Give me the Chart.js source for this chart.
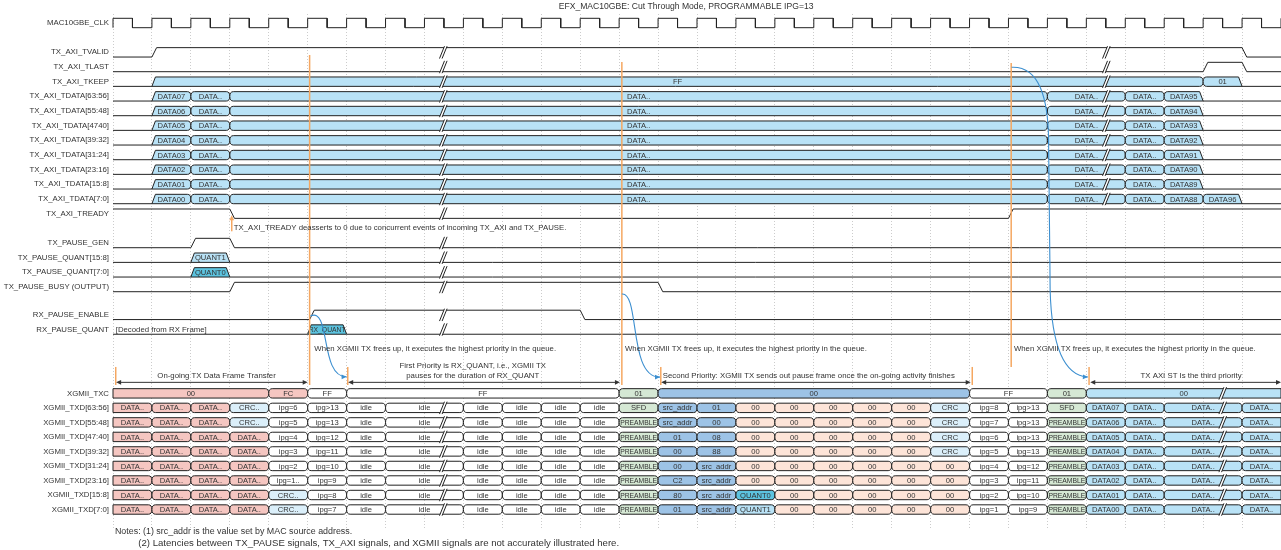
<!DOCTYPE html>
<html>
<head>
<meta charset="utf-8">
<title>EFX_MAC10GBE: Cut Through Mode</title>
<script src="https://cdn.jsdelivr.net/npm/chart.js@4/dist/chart.umd.min.js"></script>
<style>
  html, body { margin: 0; padding: 0; background: #fff; }
  #wrap { width: 1281px; height: 550px; }
</style>
</head>
<body>
<div id="wrap"><canvas id="timing"></canvas></div>
<script>
// ---------------- data ----------------
const CYCLES = 30

const signalNames = ['MAC10GBE_CLK', 'TX_AXI_TVALID', 'TX_AXI_TLAST', 'TX_AXI_TKEEP',
  'TX_AXI_TDATA[63:56]', 'TX_AXI_TDATA[55:48]', 'TX_AXI_TDATA[4740]', 'TX_AXI_TDATA[39:32]',
  'TX_AXI_TDATA[31:24]', 'TX_AXI_TDATA[23:16]', 'TX_AXI_TDATA[15:8]', 'TX_AXI_TDATA[7:0]',
  'TX_AXI_TREADY', 'TX_PAUSE_GEN', 'TX_PAUSE_QUANT[15:8]', 'TX_PAUSE_QUANT[7:0]', 'TX_PAUSE_BUSY (OUTPUT)',
  'RX_PAUSE_ENABLE', 'RX_PAUSE_QUANT', 'XGMII_TXC',
  'XGMII_TXD[63:56]', 'XGMII_TXD[55:48]', 'XGMII_TXD[47:40]', 'XGMII_TXD[39:32]',
  'XGMII_TXD[31:24]', 'XGMII_TXD[23:16]', 'XGMII_TXD[15:8]', 'XGMII_TXD[7:0]']

// rising edges of the clock
const clkRise = [0, 1, 2, 3, 4, 5, 6, 7, 8, 9, 10, 11, 12, 13, 14, 15, 16, 17, 18, 19, 20, 21, 22, 23, 24, 25, 26, 27, 28, 29, 30]

// single bit signals: [time, level]
const tvalidSteps = [[0, 0], [1, 1], [29, 0]]
const tlastSteps = [[0, 0], [28, 1], [29, 0]]
const treadySteps = [[0, 1], [3, 0], [23, 1]]
const pauseGenSteps = [[0, 0], [2, 1], [3, 0]]
const pauseBusySteps = [[0, 0], [3, 1], [14, 0]]
const rxEnableSteps = [[0, 0], [5.05, 1], [12, 0]]

// buses: edges + values
const tkeepEdges = [1, 28, 29]
const tkeepValues = ['FF', '01']

const tdataEdges = [1, 2, 3, 24, 26, 27, 28, 29]
const tdataFirst = ['DATA07', 'DATA06', 'DATA05', 'DATA04', 'DATA03', 'DATA02', 'DATA01', 'DATA00']
const tdataLast = [['DATA95'], ['DATA94'], ['DATA93'], ['DATA92'], ['DATA91'], ['DATA90'], ['DATA89'], ['DATA88', 'DATA96']]

const pauseQuantEdges = [2, 3]
const pauseQuantHi = ['QUANT1']
const pauseQuantLo = ['QUANT0']

const rxQuantEdges = [5, 6]
const rxQuantValues = ['RX_QUANT']

const txcEdges = [0, 4, 5, 6, 13, 14, 22, 24, 25, 30]
const txcValues = ['00', 'FC', 'FF', 'FF', '01', '00', 'FF', '01', '00']

const txdEdges = [0, 1, 2, 3, 4, 5, 6, 7, 9, 10, 11, 12, 13, 14, 15, 16, 17, 18, 19, 20, 21, 22, 23, 24, 25, 26, 27, 29, 30]
const txdValues = [
  ['DATA..', 'DATA..', 'DATA..', 'CRC..', 'ipg=6', 'ipg>13', 'idle', 'idle', 'idle', 'idle', 'idle', 'idle', 'SFD', 'src_addr', '01', '00', '00', '00', '00', '00', 'CRC', 'ipg=8', 'ipg>13', 'SFD', 'DATA07', 'DATA..', 'DATA..', 'DATA..'],
  ['DATA..', 'DATA..', 'DATA..', 'CRC..', 'ipg=5', 'ipg=13', 'idle', 'idle', 'idle', 'idle', 'idle', 'idle', 'PREAMBLE', 'src_addr', '00', '00', '00', '00', '00', '00', 'CRC', 'ipg=7', 'ipg>13', 'PREAMBLE', 'DATA06', 'DATA..', 'DATA..', 'DATA..'],
  ['DATA..', 'DATA..', 'DATA..', 'DATA..', 'ipg=4', 'ipg=12', 'idle', 'idle', 'idle', 'idle', 'idle', 'idle', 'PREAMBLE', '01', '08', '00', '00', '00', '00', '00', 'CRC', 'ipg=6', 'ipg>13', 'PREAMBLE', 'DATA05', 'DATA..', 'DATA..', 'DATA..'],
  ['DATA..', 'DATA..', 'DATA..', 'DATA..', 'ipg=3', 'ipg=11', 'idle', 'idle', 'idle', 'idle', 'idle', 'idle', 'PREAMBLE', '00', '88', '00', '00', '00', '00', '00', 'CRC', 'ipg=5', 'ipg=13', 'PREAMBLE', 'DATA04', 'DATA..', 'DATA..', 'DATA..'],
  ['DATA..', 'DATA..', 'DATA..', 'DATA..', 'ipg=2', 'ipg=10', 'idle', 'idle', 'idle', 'idle', 'idle', 'idle', 'PREAMBLE', '00', 'src_addr', '00', '00', '00', '00', '00', '00', 'ipg=4', 'ipg=12', 'PREAMBLE', 'DATA03', 'DATA..', 'DATA..', 'DATA..'],
  ['DATA..', 'DATA..', 'DATA..', 'DATA..', 'ipg=1..', 'ipg=9', 'idle', 'idle', 'idle', 'idle', 'idle', 'idle', 'PREAMBLE', 'C2', 'src_addr', '00', '00', '00', '00', '00', '00', 'ipg=3', 'ipg=11', 'PREAMBLE', 'DATA02', 'DATA..', 'DATA..', 'DATA..'],
  ['DATA..', 'DATA..', 'DATA..', 'DATA..', 'CRC..', 'ipg=8', 'idle', 'idle', 'idle', 'idle', 'idle', 'idle', 'PREAMBLE', '80', 'src_addr', 'QUANT0', '00', '00', '00', '00', '00', 'ipg=2', 'ipg=10', 'PREAMBLE', 'DATA01', 'DATA..', 'DATA..', 'DATA..'],
  ['DATA..', 'DATA..', 'DATA..', 'DATA..', 'CRC..', 'ipg=7', 'idle', 'idle', 'idle', 'idle', 'idle', 'idle', 'PREAMBLE', '01', 'src_addr', 'QUANT1', '00', '00', '00', '00', '00', 'ipg=1', 'ipg=9', 'PREAMBLE', 'DATA00', 'DATA..', 'DATA..', 'DATA..']
]

// ---------------- styles / layout ----------------
const FONT = '"Liberation Sans", Arial, Helvetica, sans-serif'
const INK = '#222'
const TXT = '#333'
const LEVEL = 0.32          // half height of a wave, in row units
const fills = { R: '#f5c6c1', C: '#dbeffa', W: '#ffffff', G: '#d5e8d4', B: '#9dc3e6', P: '#fde4d8', L: '#b9e2f6', T: '#5cc3df' }

// row slot for each signal
const lanes = [0, 2, 3, 4, 5, 6, 7, 8, 9, 10, 11, 12, 13, 15, 16, 17, 18, 19.9, 20.9,
  25.25, 26.24, 27.23, 28.22, 29.21, 30.2, 31.19, 32.18, 33.17]
const laneOf = {}
signalNames.forEach((n, i) => laneOf[n] = lanes[i])

const tkeepFill = 'LL'
const pauseHiFill = 'L'
const pauseLoFill = 'T'
const rxQuantFill = 'T'
const txcFill = 'RRWWGBWGL'
const txdFill = [
  'RRRCWWWWWWWWGBBPPPPPCWWGLLLL',
  'RRRCWWWWWWWWGBBPPPPPCWWGLLLL',
  'RRRRWWWWWWWWGBBPPPPPCWWGLLLL',
  'RRRRWWWWWWWWGBBPPPPPCWWGLLLL',
  'RRRRWWWWWWWWGBBPPPPPPWWGLLLL',
  'RRRRWWWWWWWWGBBPPPPPPWWGLLLL',
  'RRRRCWWWWWWWGBBTPPPPPWWGLLLL',
  'RRRRCWWWWWWWGBBLPPPPPWWGLLLL'
]

// where the "//" gap marks sit
const breaks = {}
signalNames.slice(1, 12).forEach(n => breaks[n] = [8.45, 25.48])
signalNames.slice(12, 19).forEach(n => breaks[n] = [8.45])
breaks['XGMII_TXC'] = [28.47]
signalNames.slice(20).forEach(n => breaks[n] = [8.45, 28.47])

// annotations (time, row units)
const orangeLines = [[5.05, 2.18, 24.68], [13.07, 2.66, 24.68], [23.07, 2.73, 23.45],
  [0.07, 23.45, 24.68], [6.03, 23.45, 24.68], [14.07, 23.45, 24.68], [22.07, 23.45, 24.68], [25.07, 23.45, 24.68]]
const spanArrows = [[0.08, 5.0], [6.04, 13.02], [14.08, 22.03], [25.1, 30]]
const blueArrows = [
  [[[5.07, 19.98], [5.6, 19.3], [5.3, 24.15], [6.0, 24.12]]],
  [[[13.07, 18.48], [13.54, 18.34], [13.23, 24.2], [14.05, 24.14]]],
  [[[23.08, 3.02], [23.81, 2.93], [24.02, 5.25], [24.03, 7.98]],
   [[24.03, 7.98], [24.05, 12], [24.06, 15], [24.07, 18.2]],
   [[24.07, 18.2], [24.12, 22.98], [24.58, 24.07], [25.04, 24.14]]]
]
// [time, row, align, size, text]
const texts = [
  [3.1, 14.0, 'left', 7.8, 'TX_AXI_TREADY deasserts to 0 due to concurrent events of incoming TX_AXI and TX_PAUSE.'],
  [0.07, 20.9, 'left', 7.8, '[Decoded from RX Frame]'],
  [5.17, 22.23, 'left', 7.8, 'When XGMII TX frees up, it executes the highest priority in the queue.'],
  [13.15, 22.23, 'left', 7.8, 'When XGMII TX frees up, it executes the highest priority in the queue.'],
  [23.14, 22.23, 'left', 7.8, 'When XGMII TX frees up, it executes the highest priority in the queue.'],
  [2.66, 24.05, 'center', 7.8, 'On-going TX Data Frame Transfer'],
  [9.24, 23.37, 'center', 7.8, 'First Priority is RX_QUANT, i.e., XGMII TX'],
  [9.24, 24.05, 'center', 7.8, 'pauses for the duration of RX_QUANT'],
  [14.12, 24.05, 'left', 7.8, 'Second Priority: XGMII TX sends out pause frame once the on-going activity finishes'],
  [27.69, 24.05, 'center', 7.8, 'TX AXI ST Is the third priority'],
  [0.05, 34.7, 'left', 8.9, 'Notes: (1) src_addr is the value set by MAC source address.'],
  [0.65, 35.45, 'left', 9.6, '(2) Latencies between TX_PAUSE signals, TX_AXI signals, and XGMII signals are not accurately illustrated here.']
]
const title = 'EFX_MAC10GBE: Cut Through Mode, PROGRAMMABLE IPG=13'

// ---------------- build ----------------
function segsFrom(edges, values, fill) {
  return values.map((v, i) => ({ t0: edges[i], t1: edges[i + 1], label: v, fill: fill[i] }))
}

const busRows = []
busRows.push({ name: 'TX_AXI_TKEEP', segs: segsFrom(tkeepEdges, tkeepValues, tkeepFill) })
tdataFirst.forEach((first, i) => {
  const vals = [first, 'DATA..', 'DATA..', 'DATA..', 'DATA..'].concat(tdataLast[i])
  busRows.push({ name: signalNames[4 + i], segs: segsFrom(tdataEdges, vals, 'L'.repeat(vals.length)) })
})
busRows.push({ name: 'TX_PAUSE_QUANT[15:8]', segs: segsFrom(pauseQuantEdges, pauseQuantHi, pauseHiFill) })
busRows.push({ name: 'TX_PAUSE_QUANT[7:0]', segs: segsFrom(pauseQuantEdges, pauseQuantLo, pauseLoFill) })
busRows.push({ name: 'RX_PAUSE_QUANT', segs: segsFrom(rxQuantEdges, rxQuantValues, rxQuantFill) })
busRows.push({ name: 'XGMII_TXC', segs: segsFrom(txcEdges, txcValues, txcFill) })
txdValues.forEach((vals, i) => busRows.push({ name: signalNames[20 + i], segs: segsFrom(txdEdges, vals, txdFill[i]) }))

function stepPoints(steps, lane, slope) {
  const lvl = v => v ? lane - LEVEL : lane + LEVEL
  const pts = [{ x: steps[0][0], y: lvl(steps[0][1]) }]
  for (let i = 1; i < steps.length; i++) {
    pts.push({ x: steps[i][0], y: lvl(steps[i - 1][1]) }, { x: steps[i][0] + slope, y: lvl(steps[i][1]) })
  }
  pts.push({ x: CYCLES, y: lvl(steps[steps.length - 1][1]) })
  return pts
}

const clkSteps = [[0, 0]]
clkRise.forEach(t => { clkSteps.push([t, 1]); if (t < CYCLES) clkSteps.push([t + 0.5, 0]) })

const waveDefs = [
  ['MAC10GBE_CLK', clkSteps, 0],
  ['TX_AXI_TVALID', tvalidSteps, 0.12],
  ['TX_AXI_TLAST', tlastSteps, 0.12],
  ['TX_AXI_TREADY', treadySteps, 0.12],
  ['TX_PAUSE_GEN', pauseGenSteps, 0.12],
  ['TX_PAUSE_BUSY (OUTPUT)', pauseBusySteps, 0.12],
  ['RX_PAUSE_ENABLE', rxEnableSteps, 0.12]
]
const datasets = waveDefs.map(([name, steps, slope]) => ({
  label: name,
  data: stepPoints(steps, laneOf[name], slope),
  showLine: true,
  borderColor: INK,
  borderWidth: 1,
  pointRadius: 0,
  tension: 0,
  clip: false
}))

// ---------------- drawing ----------------
function drawBus(chart, row) {
  const ctx = chart.ctx, xs = chart.scales.x, ys = chart.scales.y
  const lane = laneOf[row.name]
  const yT = ys.getPixelForValue(lane - LEVEL), yB = ys.getPixelForValue(lane + LEVEL), yM = ys.getPixelForValue(lane)
  const X = t => xs.getPixelForValue(t)
  const sx = 3.5
  const segs = row.segs
  ctx.strokeStyle = INK
  ctx.lineWidth = 1
  // idle line where nothing drives the bus
  let cur = 0
  ctx.beginPath()
  segs.forEach(s => {
    if (s.t0 > cur) { ctx.moveTo(X(cur), yB); ctx.lineTo(X(s.t0), yB) }
    cur = Math.max(cur, s.t1)
  })
  if (cur < CYCLES) { ctx.moveTo(X(cur), yB); ctx.lineTo(X(CYCLES), yB) }
  ctx.stroke()

  segs.forEach((s, i) => {
    const prev = segs[i - 1], next = segs[i + 1]
    const left = s.t0 <= 0 ? 'edge' : (prev && prev.t1 === s.t0 ? 'x' : 'low')
    const right = s.t1 >= CYCLES ? 'edge' : (next && next.t0 === s.t1 ? 'x' : 'low')
    const x0 = X(s.t0), x1 = X(s.t1)
    ctx.beginPath()
    if (left === 'x') { ctx.moveTo(x0, yM); ctx.quadraticCurveTo(x0, yT, x0 + sx, yT) }
    else if (left === 'low') { ctx.moveTo(x0, yB); ctx.lineTo(x0 + sx, yT) }
    else { ctx.moveTo(x0, yB); ctx.lineTo(x0, yT) }
    if (right === 'x') { ctx.lineTo(x1 - sx, yT); ctx.quadraticCurveTo(x1, yT, x1, yM); ctx.quadraticCurveTo(x1, yB, x1 - sx, yB) }
    else if (right === 'low') { ctx.lineTo(x1 - sx, yT); ctx.lineTo(x1, yB) }
    else { ctx.lineTo(x1, yT); ctx.lineTo(x1, yB) }
    if (left === 'x') { ctx.lineTo(x0 + sx, yB); ctx.quadraticCurveTo(x0, yB, x0, yM) }
    else ctx.lineTo(x0, yB)
    ctx.closePath()
    ctx.fillStyle = fills[s.fill]
    ctx.fill()
    ctx.stroke()
    ctx.fillStyle = TXT
    ctx.font = '7.6px ' + FONT
    ctx.textAlign = 'center'
    ctx.textBaseline = 'middle'
    ctx.fillText(s.label, (x0 + x1) / 2, yM + 0.5, x1 - x0 - 2)
  })
}

function drawBreak(chart, name, t) {
  const ctx = chart.ctx
  const lane = laneOf[name]
  const x = chart.scales.x.getPixelForValue(t)
  const top = chart.scales.y.getPixelForValue(lane - LEVEL) - 1.5
  const bot = chart.scales.y.getPixelForValue(lane + LEVEL) + 1.5
  const lean = 2.5, gap = 2.6
  ctx.beginPath()
  ctx.moveTo(x - lean, bot); ctx.lineTo(x + lean, top); ctx.lineTo(x + lean + gap, top); ctx.lineTo(x - lean + gap, bot)
  ctx.closePath()
  ctx.fillStyle = '#fff'
  ctx.fill()
  ctx.beginPath()
  ctx.moveTo(x - lean, bot); ctx.lineTo(x + lean, top)
  ctx.moveTo(x - lean + gap, bot); ctx.lineTo(x + lean + gap, top)
  ctx.strokeStyle = INK
  ctx.lineWidth = 1
  ctx.stroke()
}

function arrowHead(ctx, x, y, ang, color) {
  const len = 5, w = 2.4
  ctx.save()
  ctx.translate(x, y)
  ctx.rotate(ang)
  ctx.beginPath()
  ctx.moveTo(0, 0); ctx.lineTo(-len, -w); ctx.lineTo(-len, w)
  ctx.closePath()
  ctx.fillStyle = color
  ctx.fill()
  ctx.restore()
}

const timingPlugin = {
  id: 'timing',
  beforeDatasetsDraw(chart) {
    const ctx = chart.ctx
    ctx.save()
    busRows.forEach(row => drawBus(chart, row))
    ctx.restore()
  },
  afterDatasetsDraw(chart) {
    const ctx = chart.ctx, xs = chart.scales.x, ys = chart.scales.y
    const X = t => xs.getPixelForValue(t), Y = l => ys.getPixelForValue(l)
    ctx.save()
    Object.keys(breaks).forEach(n => breaks[n].forEach(t => drawBreak(chart, n, t)))

    // orange markers
    ctx.strokeStyle = '#f5a761'
    ctx.lineWidth = 1.5
    orangeLines.forEach(([t, a, b]) => {
      ctx.beginPath(); ctx.moveTo(X(t), Y(a)); ctx.lineTo(X(t), Y(b)); ctx.stroke()
    })
    // TREADY pointer
    ctx.beginPath(); ctx.moveTo(X(3.05), Y(14.2)); ctx.lineTo(X(3.05), Y(13.35)); ctx.stroke()
    arrowHead(ctx, X(3.05), Y(13.1), -Math.PI / 2, '#f5a761')

    // span arrows
    ctx.strokeStyle = '#333'
    ctx.lineWidth = 1
    spanArrows.forEach(([a, b]) => {
      const y = Y(24.5)
      ctx.beginPath(); ctx.moveTo(X(a) + 2, y); ctx.lineTo(X(b) - 2, y); ctx.stroke()
      arrowHead(ctx, X(a), y, Math.PI, '#333')
      arrowHead(ctx, X(b), y, 0, '#333')
    })

    // blue curved arrows
    ctx.strokeStyle = '#3c8fd0'
    ctx.lineWidth = 1.1
    blueArrows.forEach(curve => {
      ctx.beginPath()
      curve.forEach(([p0, c1, c2, p3], i) => {
        if (i === 0) ctx.moveTo(X(p0[0]), Y(p0[1]))
        ctx.bezierCurveTo(X(c1[0]), Y(c1[1]), X(c2[0]), Y(c2[1]), X(p3[0]), Y(p3[1]))
      })
      ctx.stroke()
      const [, , c2, p3] = curve[curve.length - 1]
      const ang = Math.atan2(Y(p3[1]) - Y(c2[1]), X(p3[0]) - X(c2[0]))
      arrowHead(ctx, X(p3[0]), Y(p3[1]), ang, '#3c8fd0')
    })

    // free texts
    ctx.fillStyle = TXT
    ctx.textBaseline = 'middle'
    texts.forEach(([t, l, align, size, s]) => {
      ctx.font = size + 'px ' + FONT
      ctx.textAlign = align
      ctx.fillText(s, X(t), Y(l))
    })

    // signal names
    ctx.font = '7.8px ' + FONT
    ctx.textAlign = 'right'
    signalNames.forEach(n => ctx.fillText(n, X(0) - 4, Y(laneOf[n])))

    // title
    ctx.font = '8.6px ' + FONT
    ctx.textAlign = 'center'
    ctx.fillText(title, X(14.72), Y(-1.09))
    ctx.restore()
  }
}

new Chart(document.getElementById('timing'), {
  type: 'scatter',
  data: { datasets },
  options: {
    responsive: true,
    maintainAspectRatio: false,
    animation: false,
    events: [],
    layout: { padding: { left: 113, right: 0, top: 14, bottom: 22 } },
    scales: {
      x: {
        type: 'linear', min: 0, max: CYCLES,
        ticks: { display: false, stepSize: 1, maxTicksLimit: 100 },
        grid: { color: '#cccccc', drawTicks: false, lineWidth: 1 },
        border: { display: false, dash: [1, 2] }
      },
      y: { type: 'linear', display: false, reverse: true, min: -0.614, max: 34.43 }
    },
    plugins: { legend: { display: false }, tooltip: { enabled: false } }
  },
  plugins: [timingPlugin]
})
</script>
</body>
</html>
